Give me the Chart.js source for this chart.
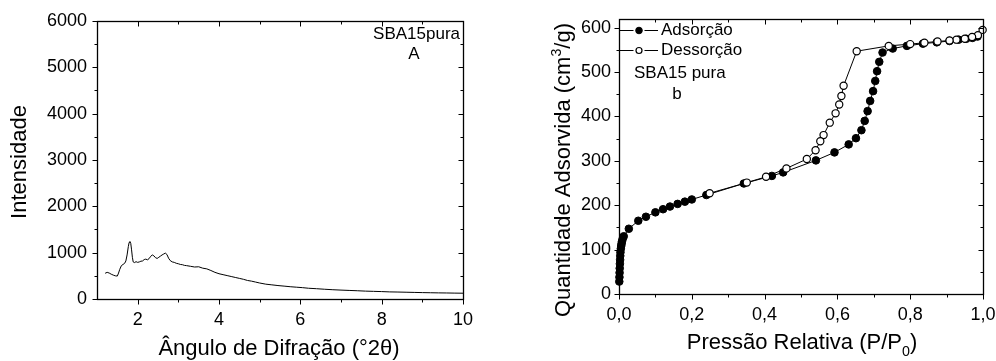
<!DOCTYPE html>
<html>
<head>
<meta charset="utf-8">
<script src="https://cdn.jsdelivr.net/npm/chart.js@4.4.1/dist/chart.umd.min.js"></script>
<style>
  body { margin: 0; background: #fff; }
  #wrap { position: relative; width: 996px; height: 361px; overflow: hidden; }
  .box { position: absolute; top: 0; height: 361px; overflow: hidden; }
  #left { left: 0; width: 500px; }
  #right { left: 500px; width: 496px; }
</style>
</head>
<body>
<div id="wrap">
  <div class="box" id="left"><canvas id="xrd" width="500" height="361"></canvas></div>
  <div class="box" id="right"><canvas id="bet" width="510" height="361"></canvas></div>
</div>
<script>
// XRD pattern (left)
var xrdAngle = [1.20,1.25,1.30,1.35,1.40,1.45,1.50,
  1.53,1.56,1.60,1.64,1.68,1.71,1.74,1.77,1.79,1.81,1.83,1.85,1.87,1.89,1.92,1.96,
  2.00,2.04,2.08,2.12,2.16,2.20,2.24,2.28,2.32,2.36,2.40,2.44,2.48,2.52,2.56,2.60,2.64,2.68,2.72,2.76,2.80,
  2.85,2.90,2.95,3.00,3.05,3.10,3.15,3.20,
  3.30,3.40,3.50,3.60,3.70,3.80,3.90,4.00,4.10,4.20,4.30,4.40,4.50,4.60,4.70,4.80,4.90,5.00,
  5.15,5.30,5.45,5.60,5.75,5.90,6.05,6.20,
  6.40,6.60,6.80,7.00,7.20,7.40,7.60,7.80,8.00,8.20,8.40,8.60,8.80,9.00,9.20,9.40,9.60,9.80,10.00];
var xrdIntensity = [555,575,560,535,515,500,495,
  560,640,720,745,770,820,950,1130,1220,1240,1200,1060,900,800,785,805,
  790,800,815,820,850,860,845,870,920,950,930,890,875,900,925,950,970,990,960,880,830,
  800,790,770,760,745,740,725,720,
  705,690,695,665,650,615,575,545,525,505,485,465,445,425,400,385,365,345,
  320,305,290,278,265,255,245,232,
  222,210,200,192,185,178,170,165,160,153,150,146,142,138,135,132,130,127,125];
var xrdXTicks = [2, 4, 6, 8, 10];
var xrdYTicks = [0, 1000, 2000, 3000, 4000, 5000, 6000];

// N2 isotherm (right)
var adsP = [0.0008,0.0012,0.0016,0.002,0.0025,0.003,0.0035,0.004,0.005,0.006,0.007,0.008,0.010,0.013,
  0.027,0.053,0.074,0.100,0.121,0.140,0.161,0.181,0.200,0.240,0.343,0.420,0.451,0.541,0.592,0.631,
  0.651,0.666,0.675,0.683,0.690,0.698,0.704,0.709,0.715,0.724,0.752,0.791,0.835,0.873,0.908,0.933,
  0.954,0.971,0.985];
var adsV = [28,38,48,58,68,77,86,94,102,108,113,118,124,130,
  147,165,174,184,191,197,203,208,213,223,249,266,274,301,319,337,
  351,369,390,412,435,457,480,502,523,544,553,559,564,567,570,573,
  575,577,580];
var desP = [0.999,0.986,0.970,0.950,0.927,0.908,0.875,0.839,0.800,0.741,0.653,0.617,0.611,0.605,
  0.595,0.579,0.562,0.553,0.540,0.516,0.460,0.404,0.351,0.249];
var desV = [595,583,579,575,573,571,569,566,563,559,547,469,446,427,
  407,386,358,344,324,304,283,264,251,227];
var isoXTicks = [0, 0.2, 0.4, 0.6, 0.8, 1.0];
var isoYTicks = [0, 100, 200, 300, 400, 500, 600];

Chart.defaults.font.family = "'Liberation Sans', Arial, sans-serif";
Chart.defaults.color = '#000';

function toPoints(xs, ys) {
  return xs.map(function (v, i) { return { x: v, y: ys[i] }; });
}
function midTicks(t) {
  return t.slice(1).map(function (v, i) { return (v + t[i]) / 2; });
}

// writes text centred at (cx, cy), parts may be super/subscript
function richText(ctx, parts, size, cx, cy, angle) {
  var fam = Chart.defaults.font.family;
  ctx.save();
  ctx.translate(cx, cy);
  ctx.rotate(angle || 0);
  ctx.fillStyle = '#000';
  ctx.textBaseline = 'alphabetic';
  ctx.textAlign = 'left';
  var fontOf = function (p) { return (p.sup || p.sub ? size * 0.65 : size) + 'px ' + fam; };
  var w = 0;
  parts.forEach(function (p) { ctx.font = fontOf(p); w += ctx.measureText(p.t).width; });
  var x = -w / 2;
  parts.forEach(function (p) {
    ctx.font = fontOf(p);
    var dy = p.sup ? -size * 0.42 : (p.sub ? size * 0.3 : 0);
    ctx.fillText(p.t, x, size * 0.36 + dy);
    x += ctx.measureText(p.t).width;
  });
  ctx.restore();
}

// box frame, ticks out on left/bottom and in on top/right, plus titles and notes
var framePlugin = {
  id: 'frame',
  afterDraw: function (chart, args, opts) {
    var ctx = chart.ctx, a = chart.chartArea;
    var xs = chart.scales.x, ys = chart.scales.y;
    var L = Math.round(a.left) + 0.5, R = Math.round(a.right) + 0.5;
    var T = Math.round(a.top) + 0.5, B = Math.round(a.bottom) + 0.5;
    ctx.save();
    ctx.strokeStyle = '#000';
    ctx.lineWidth = 1.3;
    ctx.strokeRect(L, T, R - L, B - T);
    ctx.lineWidth = 1;
    function seg(x1, y1, x2, y2) { ctx.beginPath(); ctx.moveTo(x1, y1); ctx.lineTo(x2, y2); ctx.stroke(); }
    function xt(list, len) {
      list.forEach(function (v) {
        var p = Math.round(xs.getPixelForValue(v)) + 0.5;
        seg(p, B, p, B + len); seg(p, T, p, T + len);
      });
    }
    function yt(list, len) {
      list.forEach(function (v) {
        var p = Math.round(ys.getPixelForValue(v)) + 0.5;
        seg(L, p, L - len, p); seg(R, p, R - len, p);
      });
    }
    xt(opts.xMajor, 5); xt(midTicks(opts.xMajor), 3);
    yt(opts.yMajor, 5); yt(midTicks(opts.yMajor), 3);
    ctx.restore();

    (opts.titles || []).forEach(function (t) { richText(ctx, t.parts, t.size, t.x, t.y, t.angle); });

    ctx.save();
    ctx.fillStyle = '#000';
    ctx.textBaseline = 'middle';
    (opts.notes || []).forEach(function (n) {
      ctx.font = n.size + 'px ' + Chart.defaults.font.family;
      ctx.textAlign = n.align || 'left';
      ctx.fillText(n.text, n.x, n.y);
    });
    ctx.restore();

    if (opts.legend) {
      ctx.save();
      ctx.font = '17px ' + Chart.defaults.font.family;
      ctx.textBaseline = 'middle';
      ctx.textAlign = 'left';
      chart.data.datasets.slice().reverse().forEach(function (ds, i) {
        var y = Math.round(a.top + 11 + i * 20.5) + 0.5;
        ctx.strokeStyle = '#000';
        ctx.lineWidth = 1;
        seg(a.left, y, a.left + 14.5, y);
        seg(a.left + 25.5, y, a.left + 39, y);
        ctx.beginPath();
        ctx.arc(a.left + 20, y, ds.legendRadius, 0, Math.PI * 2);
        ctx.fillStyle = ds.pointBackgroundColor;
        ctx.fill();
        ctx.lineWidth = ds.pointBorderWidth;
        ctx.stroke();
        ctx.fillStyle = '#000';
        ctx.fillText(ds.label, a.left + 42, y);
      });
      ctx.restore();
    }
  }
};

new Chart(document.getElementById('xrd'), {
  type: 'scatter',
  data: {
    datasets: [{
      label: 'SBA15pura',
      data: toPoints(xrdAngle, xrdIntensity),
      showLine: true,
      borderColor: '#000',
      borderWidth: 1,
      pointRadius: 0,
      tension: 0
    }]
  },
  options: {
    responsive: false,
    animation: false,
    layout: { padding: { top: 20, right: 37, left: 0, bottom: 0 } },
    plugins: {
      legend: { display: false },
      tooltip: { enabled: false },
      frame: {
        xMajor: xrdXTicks,
        yMajor: xrdYTicks,
        titles: [
          { parts: [{ t: 'Intensidade' }], size: 22, x: 18, y: 162, angle: -Math.PI / 2 },
          { parts: [{ t: 'Ângulo de Difração (°2θ)' }], size: 22, x: 279, y: 347, angle: 0 }
        ],
        notes: [
          { text: 'SBA15pura', size: 17, x: 460, y: 34, align: 'right' },
          { text: 'A', size: 17, x: 414, y: 54, align: 'center' }
        ]
      }
    },
    scales: {
      x: {
        type: 'linear', min: 1, max: 10,
        afterBuildTicks: function (s) { s.ticks = xrdXTicks.map(function (v) { return { value: v }; }); },
        afterFit: function (s) { s.height = 62; },
        ticks: { font: { size: 18 }, padding: 10, maxRotation: 0, callback: function (v) { return String(v); } },
        grid: { display: false, drawTicks: false },
        border: { display: false }
      },
      y: {
        type: 'linear', min: 0, max: 6000,
        afterBuildTicks: function (s) { s.ticks = xrdYTicks.map(function (v) { return { value: v }; }); },
        afterFit: function (s) { s.width = 97; },
        ticks: { font: { size: 18 }, padding: 10, callback: function (v) { return String(v); } },
        grid: { display: false, drawTicks: false },
        border: { display: false }
      }
    }
  },
  plugins: [framePlugin]
});

new Chart(document.getElementById('bet'), {
  type: 'scatter',
  data: {
    datasets: [{
      label: 'Dessorção',
      data: toPoints(desP, desV),
      showLine: true,
      order: 0,
      borderColor: '#000',
      borderWidth: 1,
      pointRadius: 3.6,
      pointBackgroundColor: '#fff',
      pointBorderColor: '#000',
      pointBorderWidth: 1.2,
      legendRadius: 3,
      clip: false
    }, {
      label: 'Adsorção',
      data: toPoints(adsP, adsV),
      showLine: true,
      order: 1,
      borderColor: '#000',
      borderWidth: 1,
      pointRadius: 3.8,
      pointBackgroundColor: '#000',
      pointBorderColor: '#000',
      pointBorderWidth: 1,
      legendRadius: 3.3,
      clip: false
    }]
  },
  options: {
    responsive: false,
    animation: false,
    layout: { padding: { top: 18, right: 27, left: 0, bottom: 0 } },
    plugins: {
      legend: { display: false },
      tooltip: { enabled: false },
      frame: {
        xMajor: isoXTicks,
        yMajor: isoYTicks,
        legend: true,
        titles: [
          { parts: [{ t: 'Quantidade Adsorvida (cm' }, { t: '3', sup: true }, { t: '/g)' }], size: 22, x: 62, y: 170, angle: -Math.PI / 2 },
          { parts: [{ t: 'Pressão Relativa (P/P' }, { t: '0', sub: true }, { t: ')' }], size: 22, x: 302, y: 341, angle: 0 }
        ],
        notes: [
          { text: 'SBA15 pura', size: 17, x: 134, y: 73, align: 'left' },
          { text: 'b', size: 17, x: 177, y: 94, align: 'center' }
        ]
      }
    },
    scales: {
      x: {
        type: 'linear', min: 0, max: 1,
        afterBuildTicks: function (s) { s.ticks = isoXTicks.map(function (v) { return { value: v }; }); },
        afterFit: function (s) { s.height = 67; },
        ticks: {
          font: { size: 18 }, padding: 10, maxRotation: 0,
          callback: function (v) { return v.toFixed(1).replace('.', ','); }
        },
        grid: { display: false, drawTicks: false },
        border: { display: false }
      },
      y: {
        type: 'linear', min: 0, max: 620,
        afterBuildTicks: function (s) { s.ticks = isoYTicks.map(function (v) { return { value: v }; }); },
        afterFit: function (s) { s.width = 119; },
        ticks: { font: { size: 18 }, padding: 8 },
        grid: { display: false, drawTicks: false },
        border: { display: false }
      }
    }
  },
  plugins: [framePlugin]
});
</script>
</body>
</html>
